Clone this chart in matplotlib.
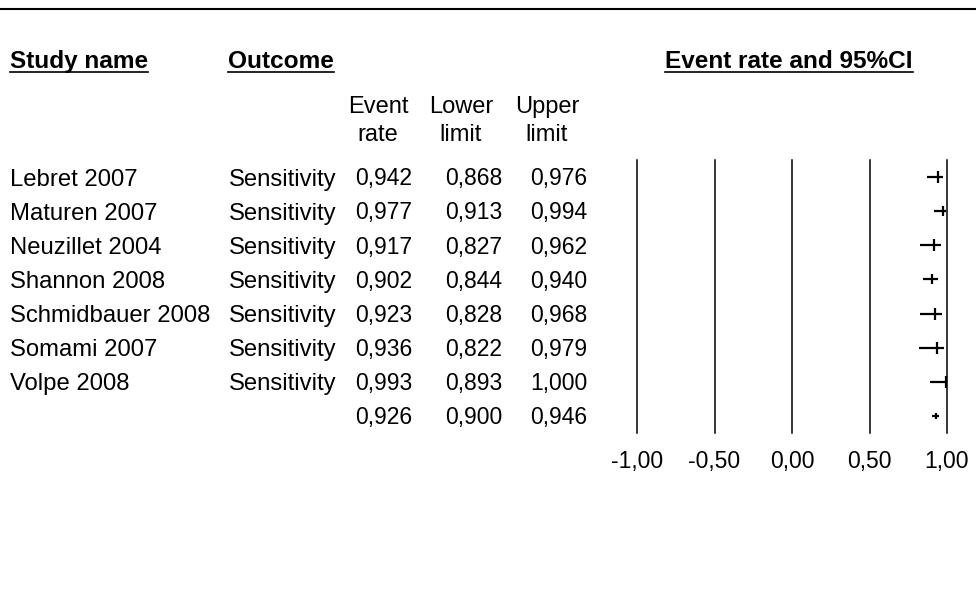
import matplotlib
matplotlib.use("Agg")
import matplotlib.pyplot as plt
from matplotlib.lines import Line2D
from matplotlib.transforms import blended_transform_factory, ScaledTranslation

plt.rcParams['font.family'] = ['Liberation Sans', 'DejaVu Sans']

# study rows
studies = ["Lebret 2007", "Maturen 2007", "Neuzillet 2004", "Shannon 2008",
           "Schmidbauer 2008", "Somami 2007", "Volpe 2008", ""]
outcomes = ["Sensitivity"] * 7 + [""]
event_rate = [0.942, 0.977, 0.917, 0.902, 0.923, 0.936, 0.993, 0.926]
lower = [0.868, 0.913, 0.827, 0.844, 0.828, 0.822, 0.893, 0.900]
upper = [0.976, 0.994, 0.962, 0.940, 0.968, 0.979, 1.000, 0.946]
marker_size = [8, 7.5, 8.5, 7, 8, 8.5, 8.5, 4.5]
xticks = [-1.0, -0.5, 0.0, 0.5, 1.0]

W, H = 976, 589
FS_NUM = 16.5   # numbers
FS_TXT = 17.2   # names / outcome
FS_HEAD = 17.6  # bold headers


def fx(x):
    return x / W


def fy(y):
    return 1 - y / H


def comma(v, nd=3):
    return f"{v:.{nd}f}".replace(".", ",")


fig = plt.figure(figsize=(W / 100, H / 100), dpi=100)

# forest panel
ax = fig.add_axes([fx(637), fy(433), fx(947) - fx(637), fy(160) - fy(433)])
ax.set_xlim(-1, 1)
ax.set_ylim(len(studies) - 0.5, -0.5)
for s in ax.spines.values():
    s.set_visible(False)
ax.set_yticks([])
ax.set_xticks(xticks)
ax.set_xticklabels([comma(v, 2) for v in xticks], fontsize=FS_NUM)
ax.tick_params(axis='x', length=0, pad=12.5)
for v in xticks:
    ax.axvline(v, color='black', lw=1.1, clip_on=False)

rows = list(range(len(studies)))
ax.hlines(rows, lower, upper, color='black', lw=1.6, clip_on=False)
for r, er, ms in zip(rows, event_rate, marker_size):
    ax.plot(er, r, marker='|', markersize=ms, mew=1.6, color='black', clip_on=False)


def row_transform(fs):
    # text rows follow the panel's y scale, shifted so caps sit on the row centre
    shift = ScaledTranslation(0, -0.358 * fs / 72, fig.dpi_scale_trans)
    return blended_transform_factory(fig.transFigure, ax.transData) + shift


tr_txt = row_transform(FS_TXT)
tr_num = row_transform(FS_NUM)
for r in rows:
    fig.text(fx(10), r, studies[r], transform=tr_txt, fontsize=FS_TXT, va='baseline', ha='left')
    fig.text(fx(229), r, outcomes[r], transform=tr_txt, fontsize=FS_TXT, va='baseline', ha='left')
    fig.text(fx(412), r, comma(event_rate[r]), transform=tr_num, fontsize=FS_NUM, va='baseline', ha='right')
    fig.text(fx(502), r, comma(lower[r]), transform=tr_num, fontsize=FS_NUM, va='baseline', ha='right')
    fig.text(fx(587), r, comma(upper[r]), transform=tr_num, fontsize=FS_NUM, va='baseline', ha='right')

# column sub-headers
for xc, (l1, l2) in zip([378, 461, 547], [("Event", "rate"), ("Lower", "limit"), ("Upper", "limit")]):
    fig.text(fx(xc), fy(113), l1, fontsize=17, ha='center', va='baseline')
    fig.text(fx(xc), fy(141), l2, fontsize=17, ha='center', va='baseline')

# bold headers with underline
heads = []
for x0, label in [(10, "Study name"), (228, "Outcome"), (665, "Event rate and 95%CI")]:
    heads.append(fig.text(fx(x0), fy(68), label, fontsize=FS_HEAD, fontweight='bold',
                          ha='left', va='baseline'))

fig.add_artist(Line2D([0, 1], [fy(9), fy(9)], transform=fig.transFigure, color='black', lw=1.5))

fig.canvas.draw()
renderer = fig.canvas.get_renderer()
for t in heads:
    bb = t.get_window_extent(renderer)
    fig.add_artist(Line2D([bb.x0 / W, bb.x1 / W], [fy(72), fy(72)],
                          transform=fig.transFigure, color='black', lw=1.2))

fig.savefig("out.png", dpi=100)
